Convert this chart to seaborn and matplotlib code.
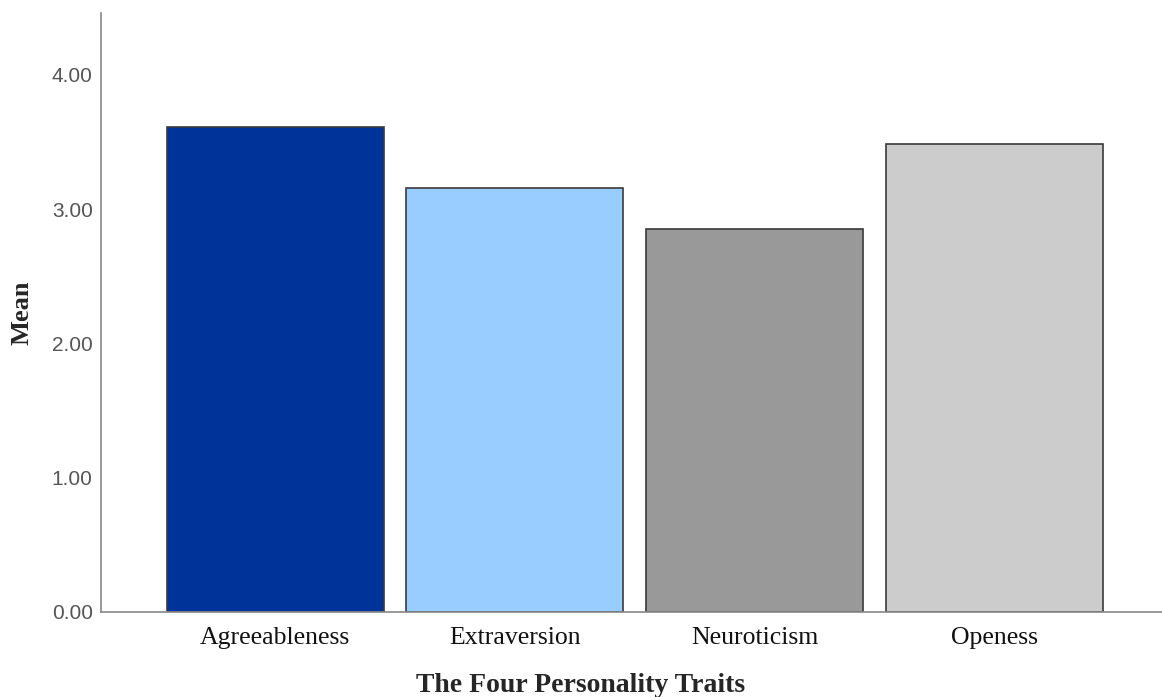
import numpy as np
import pandas as pd
import matplotlib
matplotlib.use("Agg")
import matplotlib.pyplot as plt
import seaborn as sns

# Data
traits = ["Agreeableness", "Extraversion", "Neuroticism", "Openess"]
means = [3.61, 3.16, 2.85, 3.485]
bar_colors = ["#003399", "#99CCFF", "#999999", "#CCCCCC"]
y_ticks = [0.0, 1.0, 2.0, 3.0, 4.0]

df = pd.DataFrame({"trait": traits, "mean": means})

sns.set_style("white")

fig = plt.figure(figsize=(11.62, 6.97), dpi=100)
ax = fig.add_axes([0.0869, 0.122, 0.9131, 0.859])

sns.barplot(
    data=df,
    x="trait",
    y="mean",
    hue="trait",
    palette=bar_colors,
    width=0.906,
    edgecolor="#3a3a3a",
    linewidth=1.2,
    saturation=1,
    legend=False,
    ax=ax,
)

ax.set_xlim(-0.727, 3.70)
ax.set_ylim(0, 4.46)
ax.set_yticks(y_ticks)
ax.set_yticklabels([f"{v:.2f}" for v in y_ticks], fontsize=15,
                   color="#555555", family="Liberation Sans")
ax.set_xticks(range(len(traits)))
ax.set_xticklabels(traits, fontsize=18.5, family="Liberation Serif", color="#111111")
ax.tick_params(axis="x", length=0, pad=11)
ax.tick_params(axis="y", length=0, pad=6)

ax.set_xlabel("The Four Personality Traits", fontsize=20, fontweight="bold",
              family="Liberation Serif")
ax.xaxis.set_label_coords(0.452, -0.102)
ax.set_ylabel("Mean", fontsize=19, fontweight="bold", family="Liberation Serif")
ax.yaxis.set_label_coords(-0.064, 0.5)

for side in ["top", "right"]:
    ax.spines[side].set_visible(False)
for side in ["left", "bottom"]:
    ax.spines[side].set_color("#888888")
    ax.spines[side].set_linewidth(1.2)

fig.savefig("out.png", dpi=100)
